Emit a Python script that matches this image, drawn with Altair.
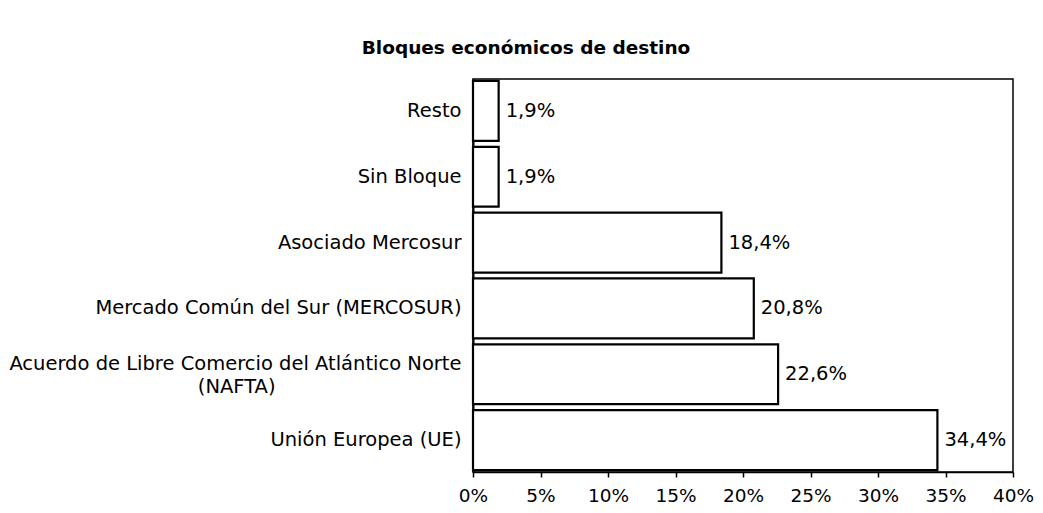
import altair as alt
import pandas as pd

NBSP = "\u00a0"
ZWSP = "\u200b"

categories = [
    "Resto",
    "Sin Bloque",
    "Asociado Mercosur",
    "Mercado Común del Sur (MERCOSUR)",
    "Acuerdo de Libre Comercio del Atlántico Norte (NAFTA)",
    "Unión Europea (UE)",
]
values = [1.9, 1.9, 18.4, 20.8, 22.6, 34.4]
x_ticks = [0, 5, 10, 15, 20, 25, 30, 35, 40]

df = pd.DataFrame({"bloque": categories, "valor": values})

FONT = "DejaVu Sans"
FS = 19.5
FS_X = 18.5

nafta = categories[4]
label_expr = (
    "datum.value == '" + nafta + "' ? "
    "['Acuerdo de Libre Comercio del Atlántico Norte', '(NAFTA)" + NBSP * 30 + ZWSP + "'] : datum.value"
)

x_enc = alt.X(
    "valor:Q",
    scale=alt.Scale(domain=[0, 40], nice=False, zero=True),
    axis=alt.Axis(
        values=x_ticks,
        labelExpr="datum.value + '%'",
        title=None,
        grid=False,
        domainColor="black",
        domainWidth=1.5,
        tickColor="black",
        tickSize=5,
        tickWidth=1.5,
        labelFont=FONT,
        labelFontSize=FS_X,
        labelColor="black",
        labelPadding=9,
        labelFlush=False,
    ),
)
y_enc = alt.Y(
    "bloque:N",
    sort=categories,
    scale=alt.Scale(paddingInner=0.09, paddingOuter=0.03),
    axis=alt.Axis(
        title=None,
        ticks=False,
        grid=False,
        domainColor="black",
        domainWidth=2,
        labelExpr=label_expr,
        labelFont=FONT,
        labelFontSize=FS,
        labelColor="black",
        labelPadding=12,
        labelLineHeight=23,
        labelLimit=0,
        labelOffset={"condition": {"test": "datum.value == '" + nafta + "'", "value": -10}, "value": 0},
    ),
)

base = alt.Chart(df).transform_calculate(
    etiqueta="replace(format(datum.valor, '.1f'), '.', ',') + '%'"
)

bars = base.mark_bar(fill="white", stroke="black", strokeWidth=2.2).encode(
    x=x_enc, y=y_enc
)
labels = base.mark_text(
    align="left", baseline="middle", dx=7, font=FONT, fontSize=FS, color="black"
).encode(x="valor:Q", y=alt.Y("bloque:N", sort=categories), text="etiqueta:N")

chart = (
    alt.layer(bars, labels)
    .properties(
        width=540,
        height=393,
        title=alt.TitleParams(
            text="Bloques económicos de destino",
            font=FONT,
            fontSize=18.5,
            fontWeight="bold",
            color="black",
            anchor="middle",
            dx=-217,
            offset=22,
        ),
        padding={"left": 465, "top": 71, "right": 22, "bottom": 33},
        autosize=alt.AutoSizeParams(type="none"),
    )
    .configure_view(stroke="black", strokeWidth=1.5)
)

chart.save("out.html", embed_options={"renderer": "svg", "actions": False})
